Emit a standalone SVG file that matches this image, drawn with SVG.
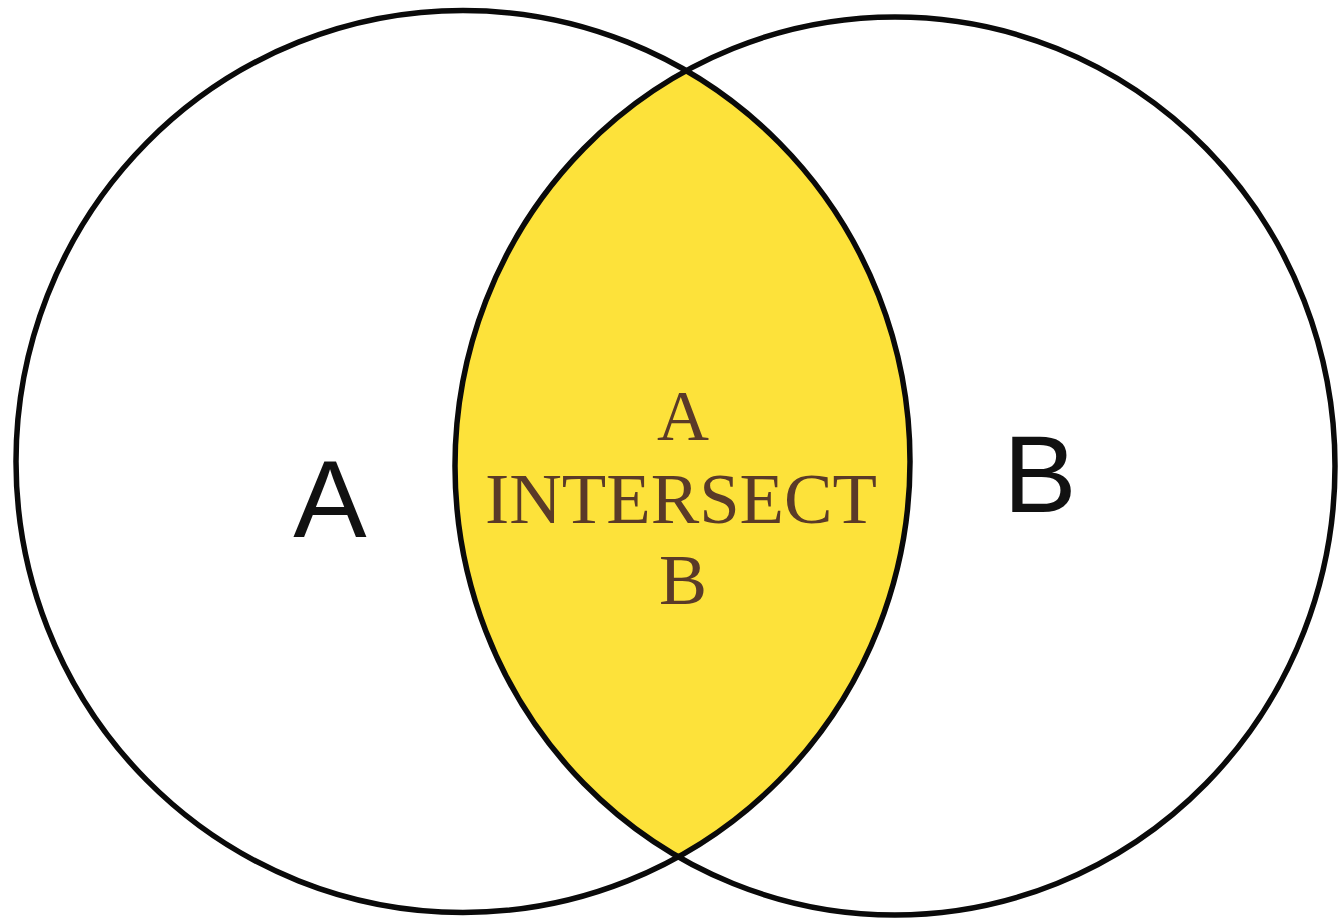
<svg xmlns="http://www.w3.org/2000/svg" width="1340" height="921" viewBox="0 0 1340 921">
<style>
.ring{fill:none;stroke:#0a0a0a;stroke-width:5.5}
.big{font-family:"Liberation Sans",Arial,sans-serif;font-size:110px;fill:#111;text-anchor:middle}
.mid{font-family:"Liberation Serif","Times New Roman",serif;font-size:72px;fill:#5a3a28;text-anchor:middle}
</style>
<defs>
<clipPath id="clipA"><ellipse cx="463" cy="461.5" rx="447" ry="451"/></clipPath>
</defs>
<rect width="1340" height="921" fill="#ffffff"/>
<g id="intersection">
<ellipse cx="895" cy="466" rx="440" ry="449" fill="#fde23a" clip-path="url(#clipA)"/>
<text class="mid" x="683" y="440">A</text>
<text class="mid" x="681" y="523" textLength="392" lengthAdjust="spacingAndGlyphs">INTERSECT</text>
<text class="mid" x="683" y="604">B</text>
</g>
<g id="setA">
<ellipse class="ring" cx="463" cy="461.5" rx="447" ry="451"/>
<text class="big" x="330" y="537">A</text>
</g>
<g id="setB">
<ellipse class="ring" cx="895" cy="466" rx="440" ry="449"/>
<text class="big" x="1040" y="512">B</text>
</g>
<g id="connectors"></g>
</svg>
